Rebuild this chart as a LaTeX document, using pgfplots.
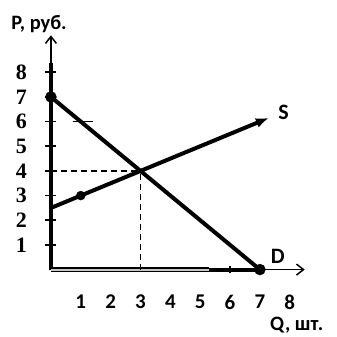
\documentclass[border=0pt]{standalone}
\usepackage{fontspec}
\setmainfont{Carlito}
\newfontfamily\timesb{Liberation Serif}
\usepackage{pgfplots}
\pgfplotsset{compat=1.18}
\usetikzlibrary{arrows.meta}
\begin{document}
\begin{tikzpicture}
\begin{axis}[
 scale only axis, width=337pt, height=336pt,
 xmin=-1.706, xmax=9.565, ymin=-2.672, ymax=10.93,
 axis lines=middle, axis line style={draw=none},
 xtick={1,...,8}, ytick={1,...,8},
 tick align=center, major tick length=11pt,
 xtick style={draw=none}, ytick style={line width=1.8pt, black},
 /pgf/number format/assume math mode=true,
 xticklabel style={font=\fontsize{21}{21}\selectfont\bfseries, anchor=center, yshift=-27pt},
 yticklabel style={font=\fontsize{22}{22}\selectfont\timesb\bfseries, anchor=center, xshift=-24pt},
 clip=false,
]
% axes
\addplot[line width=4.5pt, black] coordinates {(0,0) (0,8.38)};
\addplot[line width=1.5pt, black, -{Straight Barb[length=7pt,width=11pt]}] coordinates {(0,8.3) (0,9.5)};
\addplot[line width=1.5pt, black, double=gray!45, double distance=2pt] coordinates {(0,0) (5.3,0)};
\addplot[line width=4pt, black] coordinates {(5.3,0) (7,0)};
\addplot[line width=1.5pt, black, -{Straight Barb[length=7pt,width=11pt]}] coordinates {(7,0) (8.5,0)};
\addplot[line width=2.5pt, black] coordinates {(6,-0.15) (6,0.15)};
% dashed guides
\addplot[line width=1.8pt, black, dash pattern=on 6pt off 4pt] coordinates {(0,4) (3,4)};
\addplot[line width=1.8pt, black, dash pattern=on 6pt off 4pt] coordinates {(3,0) (3,4)};
\addplot[line width=1.8pt, black] coordinates {(0.73,6) (1.4,6)};
% demand
\addplot[line width=4pt, black] coordinates {(0,7) (7,0)};
\addplot[only marks, mark=*, mark size=5.5pt, black] coordinates {(0,7) (7,0)};
% supply
\addplot[line width=4pt, black, -{Latex[length=13pt,width=10pt]}] coordinates {(0,2.5) (7.3,6.15)};
\addplot[only marks, mark=*, mark size=4.5pt, black] coordinates {(1,3)};
% labels
\node[font=\fontsize{20.5}{20.5}\selectfont\bfseries] at (axis cs:-0.4,9.96) {P, руб.};
\node[font=\fontsize{20.5}{20.5}\selectfont\bfseries] at (axis cs:8.23,-2.27) {Q, шт.};
\node[font=\fontsize{22}{22}\selectfont\bfseries] at (axis cs:7.79,6.36) {S};
\node[font=\fontsize{22}{22}\selectfont\bfseries] at (axis cs:7.6,0.53) {D};
\end{axis}
\end{tikzpicture}
\end{document}
